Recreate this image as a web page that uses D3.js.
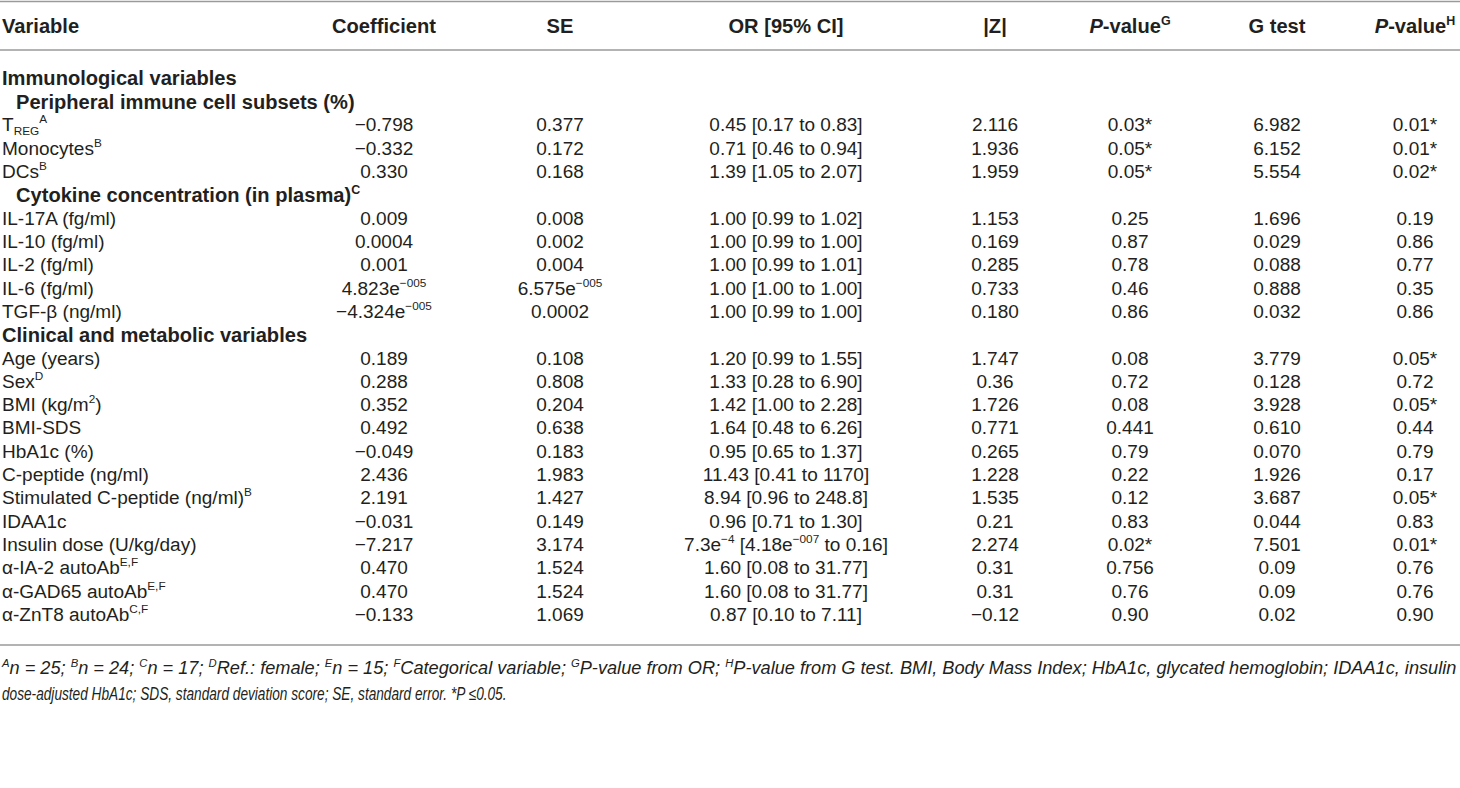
<!DOCTYPE html>
<html>
<head>
<meta charset="utf-8">
<script src="https://cdn.jsdelivr.net/npm/d3@7"></script>
<style>
  body { margin: 0; background: #fff; }
  svg { display: block; }
</style>
</head>
<body>
<script>
// table data

// column headers (^{} superscript, _{} subscript, ~{} italic)
const headers = ["Coefficient", "SE", "OR [95% CI]", "|Z|", "~{P}-value^{G}", "G test", "~{P}-value^{H}"];

const sections = ["Immunological variables", "Clinical and metabolic variables"];
const subsections = ["Peripheral immune cell subsets (%)", "Cytokine concentration (in plasma)^{C}"];

const variables = [
  "T_{REG}^{A}", "Monocytes^{B}", "DCs^{B}",
  "IL-17A (fg/ml)", "IL-10 (fg/ml)", "IL-2 (fg/ml)", "IL-6 (fg/ml)", "TGF-β (ng/ml)",
  "Age (years)", "Sex^{D}", "BMI (kg/m^{2})", "BMI-SDS", "HbA1c (%)", "C-peptide (ng/ml)",
  "Stimulated C-peptide (ng/ml)^{B}", "IDAA1c", "Insulin dose (U/kg/day)",
  "α-IA-2 autoAb^{E,F}", "α-GAD65 autoAb^{E,F}", "α-ZnT8 autoAb^{C,F}"
];

const coefficient = ["−0.798", "−0.332", "0.330", "0.009", "0.0004", "0.001", "4.823e^{−005}", "−4.324e^{−005}",
  "0.189", "0.288", "0.352", "0.492", "−0.049", "2.436", "2.191", "−0.031", "−7.217", "0.470", "0.470", "−0.133"];
const se = ["0.377", "0.172", "0.168", "0.008", "0.002", "0.004", "6.575e^{−005}", "0.0002",
  "0.108", "0.808", "0.204", "0.638", "0.183", "1.983", "1.427", "0.149", "3.174", "1.524", "1.524", "1.069"];
const orCI = ["0.45 [0.17 to 0.83]", "0.71 [0.46 to 0.94]", "1.39 [1.05 to 2.07]", "1.00 [0.99 to 1.02]",
  "1.00 [0.99 to 1.00]", "1.00 [0.99 to 1.01]", "1.00 [1.00 to 1.00]", "1.00 [0.99 to 1.00]",
  "1.20 [0.99 to 1.55]", "1.33 [0.28 to 6.90]", "1.42 [1.00 to 2.28]", "1.64 [0.48 to 6.26]",
  "0.95 [0.65 to 1.37]", "11.43 [0.41 to 1170]", "8.94 [0.96 to 248.8]", "0.96 [0.71 to 1.30]",
  "7.3e^{−4} [4.18e^{−007} to 0.16]", "1.60 [0.08 to 31.77]", "1.60 [0.08 to 31.77]", "0.87 [0.10 to 7.11]"];
const zAbs = ["2.116", "1.936", "1.959", "1.153", "0.169", "0.285", "0.733", "0.180",
  "1.747", "0.36", "1.726", "0.771", "0.265", "1.228", "1.535", "0.21", "2.274", "0.31", "0.31", "−0.12"];
const pValueG = ["0.03*", "0.05*", "0.05*", "0.25", "0.87", "0.78", "0.46", "0.86",
  "0.08", "0.72", "0.08", "0.441", "0.79", "0.22", "0.12", "0.83", "0.02*", "0.756", "0.76", "0.90"];
const gTest = ["6.982", "6.152", "5.554", "1.696", "0.029", "0.088", "0.888", "0.032",
  "3.779", "0.128", "3.928", "0.610", "0.070", "1.926", "3.687", "0.044", "7.501", "0.09", "0.09", "0.02"];
const pValueH = ["0.01*", "0.01*", "0.02*", "0.19", "0.86", "0.77", "0.35", "0.86",
  "0.05*", "0.72", "0.05*", "0.44", "0.79", "0.17", "0.05*", "0.83", "0.01*", "0.76", "0.76", "0.90"];

// row order: S = section, U = subsection, number = variable index
const rowOrder = ["S0", "U0", 0, 1, 2, "U1", 3, 4, 5, 6, 7, "S1", 8, 9, 10, 11, 12, 13, 14, 15, 16, 17, 18, 19];

const footnotes = [
  "^{A}n = 25; ^{B}n = 24; ^{C}n = 17; ^{D}Ref.: female; ^{E}n = 15; ^{F}Categorical variable; ^{G}P-value from OR; ^{H}P-value from G test. BMI, Body Mass Index; HbA1c, glycated hemoglobin; IDAA1c, insulin",
  "dose-adjusted HbA1c; SDS, standard deviation score; SE, standard error. *P ≤0.05."
];

// layout
const width = 1460, height = 788;
const ink = "#231f20";
const boldFont = "'Liberation Sans', Arial, sans-serif";
const bodyFont = "'Liberation Sans', Arial, sans-serif";

const svg = d3.select("body").append("svg")
  .attr("width", width)
  .attr("height", height);

const columns = [coefficient, se, orCI, zAbs, pValueG, gTest, pValueH];
const x = d3.scaleOrdinal()
  .domain(d3.range(columns.length))
  .range([384, 560, 786, 995, 1130, 1277, 1415]);

const y = d3.scalePoint()
  .domain(d3.range(rowOrder.length))
  .range([78, 614]);

// fit a font size so that a reference word has the width seen in the picture
function fitSize(text, family, weight, style, target, base) {
  const t = svg.append("text")
    .attr("font-family", family).attr("font-weight", weight).attr("font-style", style)
    .attr("font-size", base).text(text);
  const w = t.node().getComputedTextLength();
  t.remove();
  return base * target / w;
}

const bodySize = fitSize("Monocytes", bodyFont, 400, "normal", 92, 22);
const headSize = fitSize("Coefficient", boldFont, 700, "normal", 104, 20);

// rich text: ^{} super, _{} sub, ~{} italic
function rich(sel, str, size) {
  const parts = str.split(/(\^\{[^}]*\}|_\{[^}]*\}|~\{[^}]*\})/).filter(p => p.length);
  parts.forEach(p => {
    const ts = sel.append("tspan");
    if (p.startsWith("^{")) {
      ts.text(p.slice(2, -1))
        .attr("font-size", size * 0.62)
        .attr("baseline-shift", size * 0.42);
    } else if (p.startsWith("_{")) {
      ts.text(p.slice(2, -1))
        .attr("font-size", size * 0.62)
        .attr("baseline-shift", -size * 0.2);
    } else if (p.startsWith("~{")) {
      ts.text(p.slice(2, -1)).attr("font-style", "italic");
    } else {
      ts.text(p);
    }
  });
}

// rules
const rules = [1.5, 50, 645];
svg.selectAll("line.rule")
  .data(rules)
  .enter()
  .append("line")
  .attr("class", "rule")
  .attr("x1", 0).attr("x2", width)
  .attr("y1", d => d).attr("y2", d => d)
  .style("stroke", "#9a9a9a")
  .style("stroke-width", 1.6);

// header
const headY = 26 + headSize * 0.36;
svg.append("text")
  .attr("x", 2).attr("y", headY)
  .attr("font-family", boldFont).attr("font-weight", 700)
  .attr("font-size", headSize).attr("fill", ink)
  .text("Variable");

headers.forEach((h, i) => {
  const t = svg.append("text")
    .attr("x", x(i)).attr("y", headY)
    .attr("text-anchor", "middle")
    .attr("font-family", boldFont).attr("font-weight", 700)
    .attr("font-size", headSize).attr("fill", ink);
  rich(t, h, headSize);
});

// body rows
rowOrder.forEach((r, ri) => {
  const cy = y(ri);
  if (typeof r === "string") {
    const isSection = r[0] === "S";
    const label = isSection ? sections[+r.slice(1)] : subsections[+r.slice(1)];
    const t = svg.append("text")
      .attr("x", isSection ? 2 : 16)
      .attr("y", cy + headSize * 0.36)
      .attr("font-family", boldFont).attr("font-weight", 700)
      .attr("font-size", headSize).attr("fill", ink);
    rich(t, label, headSize);
    return;
  }
  const base = cy + bodySize * 0.36;
  const lab = svg.append("text")
    .attr("x", 2).attr("y", base)
    .attr("font-family", bodyFont)
    .attr("font-size", bodySize).attr("fill", ink);
  rich(lab, variables[r], bodySize);

  columns.forEach((col, ci) => {
    const t = svg.append("text")
      .attr("x", x(ci)).attr("y", base)
      .attr("text-anchor", "middle")
      .attr("font-family", bodyFont)
      .attr("font-size", bodySize).attr("fill", ink);
    rich(t, col[r], bodySize);
  });
});

// footnotes: italic, each line squeezed horizontally to the width seen in the picture
const footSize = 17.5;
const footY = [668, 694];
const footWidth = [1456, 505];
footnotes.forEach((f, i) => {
  const t = svg.append("text")
    .attr("x", 0).attr("y", 0)
    .attr("font-family", bodyFont).attr("font-style", "italic")
    .attr("font-size", footSize).attr("fill", ink);
  rich(t, f, footSize);
  const sx = footWidth[i] / t.node().getComputedTextLength();
  t.attr("transform", "translate(2," + (footY[i] + footSize * 0.36) + ") scale(" + sx + ",1)");
});
</script>
</body>
</html>
